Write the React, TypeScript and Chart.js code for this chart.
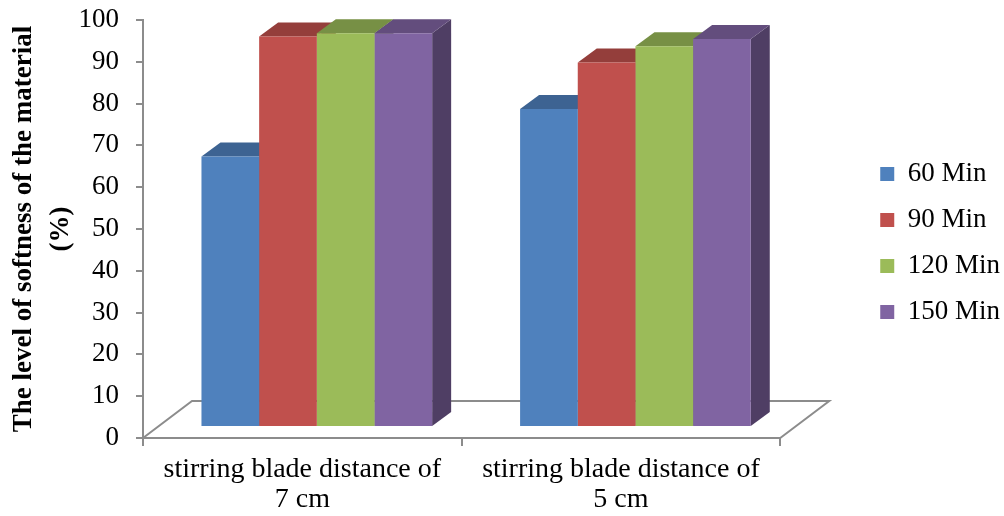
import React, { useEffect, useRef } from 'react';
import { Chart, registerables } from 'chart.js';

Chart.register(...registerables);

// ---- data ----
const categories = [
  ['stirring blade distance of', '7 cm'],
  ['stirring blade distance of', '5 cm'],
];
const seriesNames = ['60 Min', '90 Min', '120 Min', '150 Min'];
const min60 = [64.7, 76.1];
const min90 = [93.4, 87.2];
const min120 = [94.2, 91.1];
const min150 = [94.2, 92.8];
const yMin = 0;
const yMax = 100;
const yStep = 10;
const yTitle = ['The level of softness of the material', '(%)'];

// ---- style ----
const FONT = "'Liberation Serif', 'Times New Roman', serif";
const FRONT = ['#4f81bd', '#c0504d', '#9bbb59', '#8064a2'];
const AXIS = '#8c8c8c';
const FLOOR_DX = 49;
const FLOOR_DY = 37;
const BAR_DX = 14.5;
const BAR_DY = 11;
const DEPTH_DX = 19;
const DEPTH_DY = 14;

function shade(hex: string, f: number) {
  const n = parseInt(hex.slice(1), 16);
  const r = Math.round(((n >> 16) & 255) * f);
  const g = Math.round(((n >> 8) & 255) * f);
  const b = Math.round((n & 255) * f);
  return `rgb(${r},${g},${b})`;
}
const TOP = FRONT.map((c) => shade(c, 0.77));
const SIDE = FRONT.map((c) => shade(c, 0.62));

const threeD = {
  id: 'threeD',
  beforeDatasetsDraw(chart: any) {
    const { ctx, chartArea } = chart;
    const xs = chart.scales.x;
    ctx.save();
    // floor
    ctx.beginPath();
    ctx.moveTo(xs.left, chartArea.bottom);
    ctx.lineTo(xs.left + FLOOR_DX, chartArea.bottom - FLOOR_DY);
    ctx.lineTo(xs.right + FLOOR_DX, chartArea.bottom - FLOOR_DY);
    ctx.lineTo(xs.right, chartArea.bottom);
    ctx.strokeStyle = AXIS;
    ctx.lineWidth = 2;
    ctx.lineJoin = 'miter';
    ctx.stroke();
    // bars live a bit behind the front plane
    ctx.translate(BAR_DX, -BAR_DY);
    const n = chart.data.labels.length;
    const nd = chart.data.datasets.length;
    for (let j = 0; j < n; j++) {
      for (let i = 0; i < nd; i++) {
        const el = chart.getDatasetMeta(i).data[j];
        if (!el) continue;
        const p = el.getProps(['x', 'y', 'base', 'width'], true);
        const l = p.x - p.width / 2;
        const r = p.x + p.width / 2;
        const t = p.y;
        const b = p.base;
        // side
        ctx.beginPath();
        ctx.moveTo(r, t);
        ctx.lineTo(r + DEPTH_DX, t - DEPTH_DY);
        ctx.lineTo(r + DEPTH_DX, b - DEPTH_DY);
        ctx.lineTo(r, b);
        ctx.closePath();
        ctx.fillStyle = SIDE[i];
        ctx.fill();
        // top
        ctx.beginPath();
        ctx.moveTo(l, t);
        ctx.lineTo(l + DEPTH_DX, t - DEPTH_DY);
        ctx.lineTo(r + DEPTH_DX, t - DEPTH_DY);
        ctx.lineTo(r, t);
        ctx.closePath();
        ctx.fillStyle = TOP[i];
        ctx.fill();
      }
    }
  },
  afterDatasetsDraw(chart: any) {
    chart.ctx.restore();
  },
};

export default function App() {
  const ref = useRef<HTMLCanvasElement | null>(null);
  useEffect(() => {
    if (!ref.current) return;
    const values = [min60, min90, min120, min150];
    const chart = new Chart(ref.current, {
      type: 'bar',
      data: {
        labels: categories as any,
        datasets: seriesNames.map((name, i) => ({
          label: name,
          data: values[i],
          backgroundColor: FRONT[i],
          borderWidth: 0,
          categoryPercentage: 0.724,
          barPercentage: 1,
          clip: false as any,
        })),
      },
      options: {
        animation: false,
        responsive: false,
        devicePixelRatio: 1,
        layout: { padding: { left: 0, right: -6, top: 20, bottom: 0 } },
        plugins: {
          legend: {
            position: 'right',
            align: 'start',
            title: {
              display: true,
              text: ' ',
              font: { family: FONT, size: 12, lineHeight: 1 },
              padding: { top: 109.5, bottom: 0 },
            },
            labels: {
              boxWidth: 14,
              boxHeight: 14,
              padding: 19,
              color: '#000',
              font: { family: FONT, size: 27 },
            },
          },
          tooltip: { enabled: false },
        },
        scales: {
          x: {
            grid: {
              display: true,
              drawOnChartArea: false,
              drawTicks: true,
              tickLength: 8,
              color: AXIS,
              lineWidth: 2,
            },
            border: { display: true, color: AXIS, width: 2 },
            ticks: {
              color: '#000',
              padding: 9,
              maxRotation: 0,
              autoSkip: false,
              font: { family: FONT, size: 28, lineHeight: 1.07 },
            },
            afterFit(s: any) {
              s.height = 516 - 438;
              s.paddingLeft = 0;
              s.paddingRight = 0;
            },
          },
          y: {
            min: yMin,
            max: yMax,
            grid: {
              display: true,
              drawOnChartArea: false,
              drawTicks: true,
              tickLength: 7,
              color: AXIS,
              lineWidth: 2,
            },
            border: { display: true, color: AXIS, width: 2 },
            ticks: {
              stepSize: yStep,
              color: '#000',
              padding: 17,
              font: { family: FONT, size: 27 },
            },
            title: {
              display: true,
              text: yTitle,
              color: '#000',
              font: { family: FONT, size: 27, weight: 'bold', lineHeight: 1.35 },
              padding: { top: 6, bottom: 0 },
            },
            afterFit(s: any) {
              s.width = 143;
              s.paddingTop = 0;
              s.paddingBottom = 0;
            },
          },
          yR: {
            type: 'linear',
            position: 'right',
            display: true,
            grid: { display: false, drawTicks: false },
            border: { display: false },
            ticks: { display: false },
            afterFit(s: any) {
              s.width = 81;
              s.paddingTop = 0;
              s.paddingBottom = 0;
            },
          },
        },
      } as any,
      plugins: [threeD],
    });
    return () => chart.destroy();
  }, []);
  return (
    <div style={{ position: 'absolute', left: 0, top: 0, width: 1004, height: 516, background: '#fff' }}>
      <canvas ref={ref} width={1004} height={516} style={{ display: 'block' }} />
    </div>
  );
}
